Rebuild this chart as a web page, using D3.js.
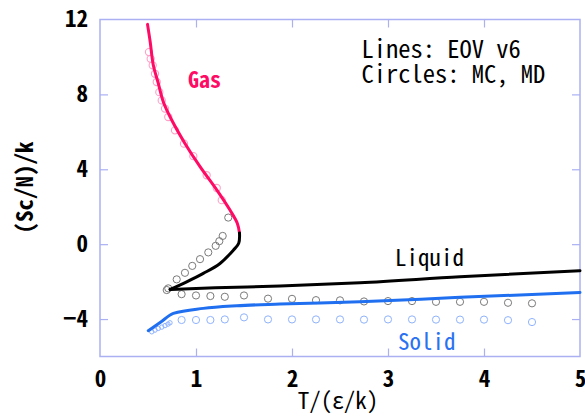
<!DOCTYPE html>
<html>
<head>
<meta charset="utf-8">
<script src="https://cdn.jsdelivr.net/npm/d3@7"></script>
<style>
  html, body { margin: 0; padding: 0; background: #ffffff; }
  svg text { font-family: "Noto Sans Mono CJK JP", "DejaVu Sans Mono", monospace; }
</style>
</head>
<body>
<svg id="chart" width="585" height="419"></svg>
<script>
// Configurational entropy vs temperature: equation-of-state lines and simulation points

// Tick values
const xTicks = [0, 1, 2, 3, 4, 5];
const yTicks = [-4, 0, 4, 8, 12];

// EOV v6 lines: [T, Sc/N]
const gasLine = [
  [0.495, 11.74], [0.523, 10.80], [0.555, 9.57], [0.606, 8.61], [0.659, 7.61],
  [0.747, 6.63], [0.885, 5.38], [1.042, 4.14], [1.216, 2.90], [1.354, 1.82],
  [1.430, 1.12], [1.453, 0.60]
];
const coexLiquidLine = [
  [1.453, 0.60], [1.445, 0.05], [1.389, -0.32], [1.25, -1.03],
  [1.076, -1.56], [0.903, -2.01], [0.73, -2.42]
];
const liquidLine = [
  [0.73, -2.42], [1.2, -2.33], [1.875, -2.24], [2.708, -2.06], [3.75, -1.74], [5.0, -1.42]
];
const solidLine = [
  [0.503, -4.62], [0.63, -4.17], [0.764, -3.70], [1.076, -3.43], [1.424, -3.29],
  [1.875, -3.20], [2.708, -3.08], [3.75, -2.84], [5.0, -2.58]
];

// MC / MD points: [T, Sc/N]
const gasPoints = [
  [0.51, 10.26], [0.528, 9.90], [0.549, 9.55], [0.573, 9.10], [0.591, 8.66],
  [0.618, 8.12], [0.643, 7.68], [0.677, 7.24], [0.711, 6.79], [0.781, 6.08],
  [0.875, 5.37], [0.972, 4.70], [1.111, 3.68], [1.216, 3.00], [1.268, 2.35]
];
const coexLiquidPoints = [
  [0.695, -2.45], [0.711, -2.36], [0.799, -1.88], [0.885, -1.53], [0.961, -1.16],
  [1.042, -0.80], [1.128, -0.44], [1.205, -0.09], [1.243, 0.16], [1.278, 0.44], [1.336, 1.42]
];
const liquidPoints = [
  [0.85, -2.67], [1.0, -2.74], [1.15, -2.77], [1.3, -2.81], [1.5, -2.74], [1.75, -2.91],
  [2.0, -2.92], [2.25, -2.99], [2.5, -3.00], [2.75, -3.06], [3.0, -3.04], [3.25, -3.04],
  [3.5, -3.08], [3.75, -3.08], [4.0, -3.08], [4.25, -3.13], [4.5, -3.16]
];
const solidPoints = [
  [0.85, -4.05], [1.0, -4.05], [1.15, -4.05], [1.3, -4.02], [1.5, -3.91], [1.75, -4.02],
  [2.0, -4.02], [2.25, -4.02], [2.5, -4.02], [2.75, -4.03], [3.0, -4.02], [3.25, -4.02],
  [3.5, -4.03], [3.75, -4.03], [4.0, -4.03], [4.25, -4.06], [4.5, -4.16]
];
const solidLowPoints = [
  [0.539, -4.68], [0.573, -4.59], [0.607, -4.50], [0.643, -4.43], [0.677, -4.35], [0.708, -4.27], [0.729, -4.20]
];

const svg = d3.select("#chart");
const x = d3.scaleLinear().domain([0, 5]).range([100, 580]);
const y = d3.scaleLinear().domain([-6, 12]).range([356.5, 19.5]);

const frameColor = "#aab0f2";
const tickFont = "23px";

// Frame
svg.append("rect")
  .attr("x", x(0)).attr("y", y(12))
  .attr("width", x(5) - x(0)).attr("height", y(-6) - y(12))
  .attr("fill", "none").attr("stroke", frameColor).attr("stroke-width", 1.5);

// Axes with inward ticks
function styleAxis(g) {
  g.select(".domain").remove();
  g.selectAll(".tick line").attr("stroke", frameColor).attr("stroke-width", 1.2);
  g.selectAll(".tick text").attr("fill", "#000").style("font-size", tickFont).style("font-weight", "bold");
}
const innerX = xTicks.filter(v => v > 0 && v < 5);
const innerY = yTicks.filter(v => v > -6 && v < 12);

svg.append("g").attr("transform", `translate(0,${y(-6)})`)
  .call(d3.axisBottom(x).tickValues(xTicks).tickFormat(d3.format("d")).tickSizeInner(-8).tickSizeOuter(0).tickPadding(14))
  .call(styleAxis)
  .call(g => g.selectAll(".tick").filter(d => !innerX.includes(d)).select("line").remove());

svg.append("g").attr("transform", `translate(${x(0)},0)`)
  .call(d3.axisLeft(y).tickValues(yTicks).tickFormat(d3.format("d")).tickSizeInner(-8).tickSizeOuter(0).tickPadding(12))
  .call(styleAxis)
  .call(g => g.selectAll(".tick").filter(d => !innerY.includes(d)).select("line").remove());

svg.append("g").attr("transform", `translate(0,${y(12)})`)
  .call(d3.axisTop(x).tickValues(innerX).tickFormat("").tickSizeInner(-8).tickSizeOuter(0))
  .call(styleAxis);

svg.append("g").attr("transform", `translate(${x(5)},0)`)
  .call(d3.axisRight(y).tickValues(innerY).tickFormat("").tickSizeInner(-8).tickSizeOuter(0))
  .call(styleAxis);

// Axis titles
svg.append("text")
  .attr("x", 338).attr("y", 408.5)
  .attr("text-anchor", "middle").style("font-size", "23px")
  .text("T/(ε/k)");
svg.append("text")
  .attr("transform", "translate(33,187.5) rotate(-90)")
  .attr("text-anchor", "middle").style("font-size", "23px").style("font-weight", "bold")
  .text("(Sc/N)/k");

// Simulation points (behind lines)
function drawPoints(data, color, r, width) {
  svg.append("g").selectAll("circle").data(data).join("circle")
    .attr("cx", d => x(d[0])).attr("cy", d => y(d[1])).attr("r", r)
    .attr("fill", "none").attr("stroke", color).attr("stroke-width", width);
}
drawPoints(gasPoints, "#ffa0c6", 3.6, 1.1);
drawPoints(coexLiquidPoints, "#7a7a7a", 3.6, 1);
drawPoints(liquidPoints, "#7a7a7a", 3.6, 1);
drawPoints(solidPoints, "#8fb2ff", 3.6, 1);
drawPoints(solidLowPoints, "#8fb2ff", 2.2, 1);

// EOV lines
const lineCR = d3.line().x(d => x(d[0])).y(d => y(d[1])).curve(d3.curveCatmullRom.alpha(0.5));
const lineMX = d3.line().x(d => x(d[0])).y(d => y(d[1])).curve(d3.curveMonotoneX);
function drawLine(data, gen, color) {
  svg.append("path").datum(data).attr("d", gen)
    .attr("fill", "none").attr("stroke", color).attr("stroke-width", 3)
    .attr("stroke-linejoin", "round").attr("stroke-linecap", "round");
}
drawLine(gasLine, lineCR, "#ff0a64");
drawLine(coexLiquidLine, lineCR, "#000000");
drawLine(liquidLine, lineMX, "#000000");
drawLine(solidLine, lineMX, "#1f6ff0");

// Phase labels
svg.append("text").attr("x", 188).attr("y", 88.3)
  .attr("fill", "#ff0a64").style("font-size", "22px").style("font-weight", "bold").text("Gas");
svg.append("text").attr("x", 395).attr("y", 265.5)
  .attr("fill", "#000").style("font-size", "23px").text("Liquid");
svg.append("text").attr("x", 398).attr("y", 350)
  .attr("fill", "#2a72f2").style("font-size", "23px").text("Solid");

// Legend notes
const note = svg.append("text").attr("fill", "#000").style("font-size", "24.5px");
note.append("tspan").attr("x", 361.5).attr("y", 57.5).text("Lines: EOV v6");
note.append("tspan").attr("x", 361.5).attr("y", 83).text("Circles: MC, MD");
</script>
</body>
</html>
